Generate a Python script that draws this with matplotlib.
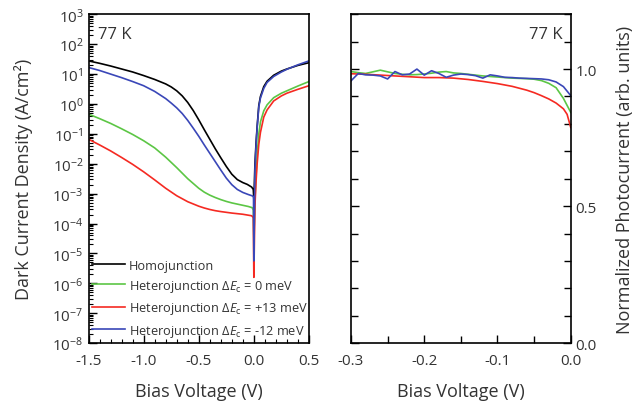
import numpy as np
import matplotlib
matplotlib.use('Agg')
import matplotlib.pyplot as plt
from matplotlib.ticker import LogLocator, MultipleLocator, NullFormatter

plt.rcParams['font.family'] = ['Open Sans', 'DejaVu Sans']
plt.rcParams['mathtext.fontset'] = 'custom'
plt.rcParams['mathtext.rm'] = 'Open Sans'
plt.rcParams['mathtext.it'] = 'Open Sans:italic'
plt.rcParams['axes.unicode_minus'] = False

txt = '#333333'

# dark current, J in A/cm^2 given as log10 values vs bias (V)
v_homo = [-1.5, -1.4, -1.3, -1.2, -1.1, -1.0, -0.9, -0.8, -0.75, -0.7, -0.65, -0.6, -0.55,
          -0.5, -0.45, -0.4, -0.35, -0.3, -0.25, -0.2, -0.15, -0.1, -0.06, -0.02, -0.005, 0.0,
          0.01, 0.02, 0.03, 0.045, 0.06, 0.09, 0.12, 0.18, 0.25, 0.3, 0.4, 0.5]
logj_homo = [1.44, 1.36, 1.27, 1.17, 1.07, 0.95, 0.82, 0.67, 0.57, 0.44, 0.27, 0.05, -0.22,
             -0.53, -0.86, -1.18, -1.50, -1.80, -2.09, -2.35, -2.53, -2.63, -2.69, -2.78, -2.86, -3.2,
             -2.0, -1.3, -0.75, -0.05, 0.25, 0.58, 0.76, 0.96, 1.10, 1.17, 1.29, 1.38]

v_het0 = [-1.5, -1.4, -1.3, -1.2, -1.1, -1.0, -0.9, -0.8, -0.7, -0.6, -0.5, -0.45, -0.4,
          -0.35, -0.3, -0.25, -0.2, -0.15, -0.1, -0.05, -0.015, -0.005, 0.0,
          0.01, 0.02, 0.03, 0.045, 0.06, 0.09, 0.12, 0.18, 0.25, 0.3, 0.4, 0.5]
logj_het0 = [-0.34, -0.49, -0.65, -0.83, -1.02, -1.23, -1.47, -1.78, -2.13, -2.50, -2.82, -2.95, -3.05,
             -3.13, -3.20, -3.26, -3.31, -3.35, -3.39, -3.43, -3.47, -3.55, -4.5,
             -3.2, -2.4, -1.7, -1.0, -0.6, -0.23, -0.03, 0.21, 0.36, 0.44, 0.60, 0.75]

v_het13 = [-1.5, -1.4, -1.3, -1.2, -1.1, -1.0, -0.9, -0.8, -0.7, -0.6, -0.5, -0.45, -0.4,
           -0.35, -0.3, -0.2, -0.1, -0.02, -0.005, 0.0,
           0.01, 0.02, 0.03, 0.045, 0.06, 0.09, 0.12, 0.18, 0.25, 0.3, 0.4, 0.5]
logj_het13 = [-1.18, -1.37, -1.57, -1.79, -2.02, -2.27, -2.54, -2.82, -3.07, -3.27, -3.42, -3.48, -3.53,
              -3.57, -3.60, -3.65, -3.69, -3.74, -3.80, -5.8,
              -3.4, -2.6, -2.0, -1.35, -0.95, -0.44, -0.2, 0.10, 0.27, 0.36, 0.49, 0.61]

v_het12 = [-1.5, -1.4, -1.3, -1.2, -1.1, -1.0, -0.9, -0.8, -0.75, -0.7, -0.65, -0.6, -0.55,
           -0.5, -0.45, -0.4, -0.35, -0.3, -0.25, -0.2, -0.15, -0.1, -0.05, -0.01, -0.003, 0.0,
           0.01, 0.02, 0.03, 0.045, 0.06, 0.09, 0.12, 0.18, 0.25, 0.3, 0.4, 0.5]
logj_het12 = [1.22, 1.12, 1.00, 0.88, 0.75, 0.61, 0.42, 0.18, 0.03, -0.13, -0.32, -0.55, -0.81,
              -1.08, -1.37, -1.65, -1.93, -2.21, -2.48, -2.70, -2.86, -2.96, -3.03, -3.08, -3.12, -5.25,
              -2.2, -1.4, -0.8, -0.1, 0.2, 0.52, 0.72, 0.92, 1.07, 1.16, 1.31, 1.44]

# normalized photocurrent vs bias (V)
v_pc = [-0.30, -0.29, -0.28, -0.27, -0.26, -0.25, -0.24, -0.23, -0.22, -0.21, -0.20,
        -0.19, -0.18, -0.17, -0.16, -0.15, -0.14, -0.13, -0.12, -0.11, -0.10,
        -0.09, -0.08, -0.07, -0.06, -0.05, -0.04, -0.03, -0.02, -0.01, 0.00]
pc_het12 = [0.957, 0.984, 0.979, 0.978, 0.975, 0.964, 0.991, 0.979, 0.982, 1.000, 0.978,
            0.994, 0.984, 0.970, 0.978, 0.982, 0.980, 0.976, 0.967, 0.979, 0.975,
            0.970, 0.969, 0.967, 0.966, 0.965, 0.964, 0.961, 0.953, 0.936, 0.903]
pc_het0 = [0.991, 0.987, 0.984, 0.990, 0.996, 0.990, 0.984, 0.981, 0.979, 0.980, 0.982,
           0.985, 0.989, 0.991, 0.986, 0.984, 0.981, 0.978, 0.975, 0.973, 0.971,
           0.969, 0.967, 0.966, 0.965, 0.963, 0.958, 0.948, 0.932, 0.893, 0.842]
v_pc13 = [-0.30, -0.28, -0.26, -0.24, -0.22, -0.20, -0.18, -0.16, -0.14, -0.12, -0.10,
          -0.08, -0.06, -0.05, -0.04, -0.03, -0.02, -0.01, -0.005, 0.0]
pc_het13 = [0.983, 0.981, 0.978, 0.975, 0.972, 0.969, 0.969, 0.967, 0.962, 0.955, 0.947,
            0.937, 0.923, 0.914, 0.903, 0.891, 0.876, 0.855, 0.835, 0.787]

c_homo = 'black'
c_het0 = '#5cc645'
c_het13 = '#f52a22'
c_het12 = '#3a47b8'
lw = 1.2

fig = plt.figure(figsize=(6.37, 4.02), dpi=100)
ax1 = fig.add_axes([0.139, 0.144, 0.346, 0.818])
ax2 = fig.add_axes([0.551, 0.144, 0.345, 0.818])

ax1.semilogy(v_homo, 10.0 ** np.array(logj_homo), color=c_homo, lw=lw, label='Homojunction')
ax1.semilogy(v_het0, 10.0 ** np.array(logj_het0), color=c_het0, lw=lw,
             label='Heterojunction Δ$\\mathit{E}_\\mathrm{c}$ = 0 meV')
ax1.semilogy(v_het13, 10.0 ** np.array(logj_het13), color=c_het13, lw=lw,
             label='Heterojunction Δ$\\mathit{E}_\\mathrm{c}$ = +13 meV')
ax1.semilogy(v_het12, 10.0 ** np.array(logj_het12), color=c_het12, lw=lw,
             label='Heterojunction Δ$\\mathit{E}_\\mathrm{c}$ = -12 meV')

ax1.set_xlim(-1.5, 0.5)
ax1.set_ylim(1e-8, 1e3)
ax1.xaxis.set_major_locator(MultipleLocator(0.5))
ax1.xaxis.set_minor_locator(MultipleLocator(0.1))
ax1.yaxis.set_major_locator(LogLocator(base=10, numticks=20))
ax1.yaxis.set_minor_locator(LogLocator(base=10, subs=np.arange(2, 10), numticks=20))
ax1.yaxis.set_minor_formatter(NullFormatter())
ax1.xaxis.set_major_formatter(plt.FuncFormatter(lambda v, p: '%.1f' % v))
ax1.tick_params(which='both', direction='in', top=False, right=False,
                labelsize=11, labelcolor=txt)
ax1.tick_params(axis='x', pad=7)
ax1.tick_params(which='major', length=6, width=1)
ax1.tick_params(which='minor', length=3, width=0.8)
ax1.set_xlabel('Bias Voltage (V)', fontsize=13, color=txt, labelpad=10)
ax1.set_ylabel('Dark Current Density (A/cm²)', fontsize=13, color=txt, labelpad=14)
ax1.text(0.045, 0.965, '77 K', transform=ax1.transAxes, fontsize=12, color=txt,
         ha='left', va='top')
leg = ax1.legend(loc='lower left', bbox_to_anchor=(-0.02, -0.01), frameon=False,
                 fontsize=9.2, handlelength=2.6, handletextpad=0.3, labelspacing=0.5,
                 borderaxespad=0.2)
for t in leg.get_texts():
    t.set_color(txt)

ax2.plot(v_pc, pc_het0, color=c_het0, lw=lw)
ax2.plot(v_pc13, pc_het13, color=c_het13, lw=lw)
ax2.plot(v_pc, pc_het12, color=c_het12, lw=lw)
ax2.set_xlim(-0.3, 0.0)
ax2.set_ylim(0.0, 1.2)
ax2.xaxis.set_major_locator(MultipleLocator(0.1))
ax2.xaxis.set_minor_locator(MultipleLocator(0.05))
ax2.yaxis.set_major_locator(MultipleLocator(0.5))
ax2.yaxis.set_minor_locator(MultipleLocator(0.1))
ax2.xaxis.set_major_formatter(plt.FuncFormatter(lambda v, p: '%.1f' % v))
ax2.yaxis.set_major_formatter(plt.FuncFormatter(lambda v, p: '%.1f' % v))
ax2.yaxis.tick_right()
ax2.yaxis.set_label_position('right')
ax2.tick_params(which='both', direction='in', top=False, left=True, right=True,
                labelleft=False, labelright=True, labelsize=11, labelcolor=txt)
ax2.tick_params(axis='x', pad=7)
ax2.tick_params(which='major', length=6, width=1)
ax2.tick_params(which='minor', length=5, width=1)
ax2.set_xlabel('Bias Voltage (V)', fontsize=13, color=txt, labelpad=10)
ax2.set_ylabel('Normalized Photocurrent (arb. units)', fontsize=13, color=txt, labelpad=14)
ax2.text(0.965, 0.965, '77 K', transform=ax2.transAxes, fontsize=12, color=txt,
         ha='right', va='top')

for ax in (ax1, ax2):
    for s in ax.spines.values():
        s.set_linewidth(1.2)

fig.savefig('out.png', dpi=100)
